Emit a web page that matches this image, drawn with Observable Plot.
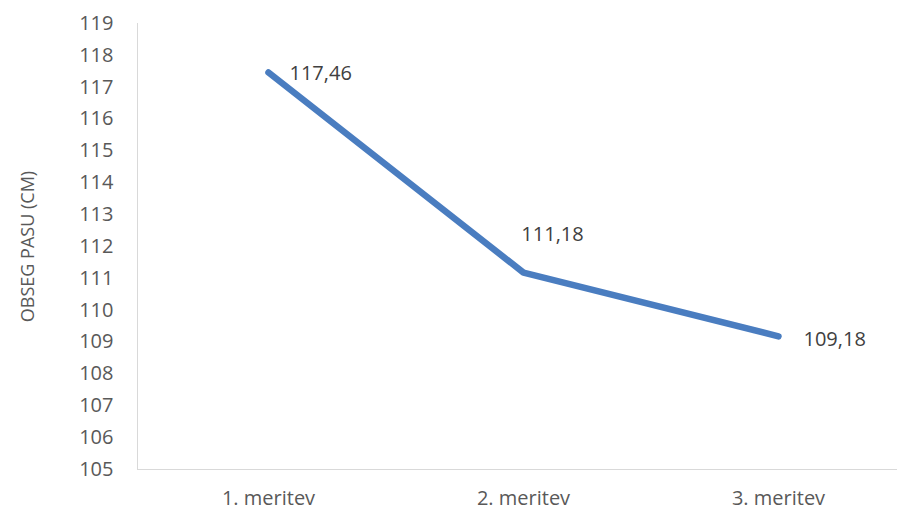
<!DOCTYPE html>
<html>
<head>
<meta charset="utf-8">
<script src="https://cdn.jsdelivr.net/npm/d3@7"></script>
<script src="https://cdn.jsdelivr.net/npm/@observablehq/plot@0.6"></script>
<style>
  html, body { margin: 0; padding: 0; background: #fff; }
</style>
</head>
<body>
<div id="chart"></div>
<script>
const categories = ["1. meritev", "2. meritev", "3. meritev"];
const values = [117.46, 111.18, 109.18];
const valueLabels = ["117,46", "111,18", "109,18"];
const yTicks = [105, 106, 107, 108, 109, 110, 111, 112, 113, 114, 115, 116, 117, 118, 119];
const yTitle = "OBSEG PASU (CM)";

const data = categories.map((c, i) => ({ cat: c, value: values[i], label: valueLabels[i] }));

const chart = Plot.plot({
  width: 897,
  height: 510,
  marginLeft: 137,
  marginRight: 0,
  marginTop: 23,
  marginBottom: 41,
  style: { fontFamily: "'Open Sans', sans-serif", fontSize: "20px", color: "#595959", background: "#fff" },
  x: { type: "point", domain: categories, range: [267, 778], padding: 0 },
  y: { domain: [105, 119] },
  marks: [
    Plot.frame({ anchor: "left", stroke: "#d9d9d9" }),
    Plot.frame({ anchor: "bottom", stroke: "#d9d9d9" }),
    Plot.axisX({ tickSize: 0, tickPadding: 21, label: null, fontSize: 20 }),
    Plot.axisY({ ticks: yTicks, tickSize: 0, tickPadding: 24, tickFormat: d => String(d), label: null, fontSize: 20 }),
    Plot.text([yTitle], { frameAnchor: "left", textAnchor: "middle", lineAnchor: "middle", rotate: -90, dx: -109, text: d => d, fontSize: 18, fill: "#595959" }),
    Plot.line(data, { x: "cat", y: "value", stroke: "#4a7dc0", strokeWidth: 6.5 }),
    Plot.text(data.filter((d, i) => i === 0), { x: "cat", y: "value", text: "label", textAnchor: "start", dx: 21, dy: 1, fill: "#404040", fontSize: 20 }),
    Plot.text(data.filter((d, i) => i === 1), { x: "cat", y: "value", text: "label", textAnchor: "middle", dx: 29, dy: -38, fill: "#404040", fontSize: 20 }),
    Plot.text(data.filter((d, i) => i === 2), { x: "cat", y: "value", text: "label", textAnchor: "start", dx: 25, dy: 3, fill: "#404040", fontSize: 20 })
  ]
});
document.getElementById("chart").appendChild(chart);
</script>
</body>
</html>
